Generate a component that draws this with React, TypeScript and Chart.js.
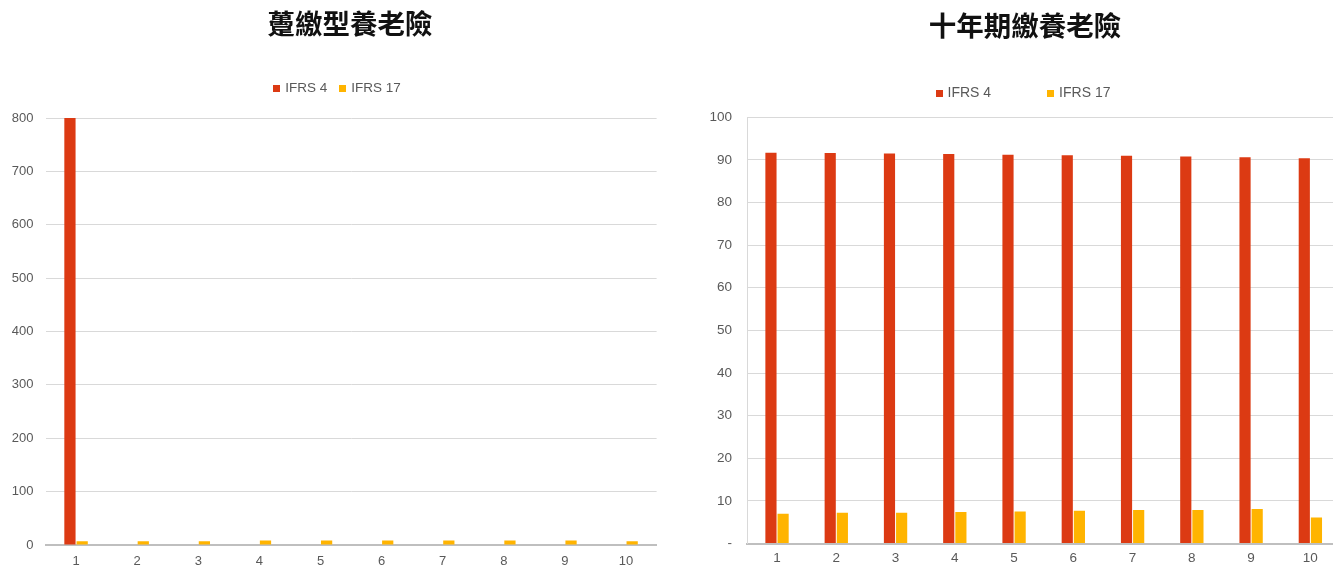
import React, { useEffect, useRef } from "react";
import { Chart, registerables } from "chart.js";

Chart.register(...registerables);
Chart.defaults.font.family = "'Liberation Sans', Arial, sans-serif";

// ---------- data ----------
const categories = ["1", "2", "3", "4", "5", "6", "7", "8", "9", "10"];
const seriesNames = ["IFRS 4", "IFRS 17"];

const leftTitle = "躉繳型養老險";
const leftIfrs4 = [800, 0, 0, 0, 0, 0, 0, 0, 0, 0];
const leftIfrs17 = [7, 7, 7, 8.5, 8.5, 8.5, 8.5, 8.5, 8.5, 7];
const leftYMax = 800;
const leftYStep = 100;

const rightTitle = "十年期繳養老險";
const rightIfrs4 = [91.7, 91.6, 91.5, 91.4, 91.2, 91.1, 91.0, 90.8, 90.6, 90.4];
const rightIfrs17 = [7.0, 7.2, 7.2, 7.4, 7.5, 7.7, 7.85, 7.85, 8.1, 6.1];
const rightYMax = 100;
const rightYStep = 10;
const zeroLabel = "-";

// ---------- styles ----------
const RED = "#DC3A13";
const YELLOW = "#FFB400";
const GRID = "#D9D9D9";
const BASE = "#BFBFBF";
const TICK = "#595959";

// Draws the chart title and legend (title and legend are centred differently in the reference)
const header = {
  id: "header",
  afterDraw(chart: any, _args: any, opts: any) {
    const { ctx } = chart;
    const ds = chart.data.datasets;
    ctx.save();
    // title
    ctx.font = opts.titleFont;
    ctx.fillStyle = opts.titleColor;
    ctx.textAlign = "center";
    ctx.textBaseline = "middle";
    ctx.fillText(opts.title, opts.titleX, opts.titleY);
    // legend
    ctx.font = opts.font;
    const widths = ds.map((d: any) => ctx.measureText(d.label).width);
    const total =
      widths.reduce((a: number, w: number) => a + opts.box + opts.gap + w, 0) +
      opts.itemGap * (ds.length - 1);
    let x = opts.centerX - total / 2;
    ctx.textAlign = "left";
    ds.forEach((d: any, i: number) => {
      ctx.fillStyle = d.backgroundColor;
      ctx.fillRect(Math.round(x), Math.round(opts.y - opts.box / 2), opts.box, opts.box);
      x += opts.box + opts.gap;
      ctx.fillStyle = opts.color;
      ctx.fillText(d.label, x, opts.y);
      x += widths[i] + opts.itemGap;
    });
    ctx.restore();
  },
};

function makeConfig(p: any): any {
  return {
    type: "bar",
    data: {
      labels: categories,
      datasets: [
        {
          label: seriesNames[0],
          data: p.s1,
          backgroundColor: RED,
          categoryPercentage: p.catPct,
          barPercentage: 0.92,
        },
        {
          label: seriesNames[1],
          data: p.s2,
          backgroundColor: YELLOW,
          categoryPercentage: p.catPct,
          barPercentage: 0.92,
        },
      ],
    },
    options: {
      responsive: false,
      animation: false,
      layout: { padding: p.layoutPad },
      plugins: {
        legend: { display: false },
        tooltip: { enabled: false },
        title: { display: false },
        header: p.header,
      },
      scales: {
        x: {
          grid: { display: false, drawTicks: false },
          border: { display: true, color: BASE, width: 2 },
          ticks: {
            color: TICK,
            font: { size: p.tickSize },
            padding: p.xPad,
            maxRotation: 0,
            autoSkip: false,
          },
          afterFit: (s: any) => {
            s.height = p.xHeight;
          },
        },
        y: {
          min: 0,
          max: p.yMax,
          grid: {
            drawTicks: false,
            color: (c: any) => (c.tick && c.tick.value === 0 ? "rgba(0,0,0,0)" : GRID),
            lineWidth: 1,
          },
          border: { display: p.yBorder, color: GRID, width: 1 },
          ticks: {
            stepSize: p.yStep,
            color: TICK,
            font: { size: p.tickSize },
            padding: p.yPad,
            callback: (v: any) => (v === 0 ? p.zero : String(v)),
          },
          afterFit: (s: any) => {
            s.width = p.yWidth;
          },
        },
      },
    },
    plugins: [header],
  };
}

function ChartCanvas({ cfg, left, width }: { cfg: any; left: number; width: number }) {
  const ref = useRef<HTMLCanvasElement>(null);
  useEffect(() => {
    const chart = new Chart(ref.current as HTMLCanvasElement, cfg);
    return () => chart.destroy();
  }, []);
  return (
    <canvas
      ref={ref}
      width={width}
      height={567}
      style={{ position: "absolute", left, top: 0, display: "block" }}
    />
  );
}

const TITLE_FONT = "bold 27.5px 'Noto Sans CJK TC', sans-serif";

export default function App() {
  const leftCfg = makeConfig({
    s1: leftIfrs4,
    s2: leftIfrs17,
    yMax: leftYMax,
    yStep: leftYStep,
    zero: "0",
    catPct: 0.4,
    layoutPad: { left: 0, right: 23.4, top: 118, bottom: 0 },
    tickSize: 13,
    xPad: 9,
    xHeight: 22,
    yPad: 12,
    yWidth: 45.5,
    yBorder: false,
    header: {
      title: leftTitle,
      titleFont: TITLE_FONT,
      titleColor: "#111111",
      titleX: 350,
      titleY: 24,
      centerX: 337,
      y: 88,
      box: 7,
      gap: 5,
      itemGap: 12,
      font: "13.5px 'Liberation Sans', Arial, sans-serif",
      color: TICK,
    },
  });
  const rightCfg = makeConfig({
    s1: rightIfrs4,
    s2: rightIfrs17,
    yMax: rightYMax,
    yStep: rightYStep,
    zero: zeroLabel,
    catPct: 0.41,
    layoutPad: { left: 15, right: 10, top: 117.3, bottom: 0 },
    tickSize: 13.5,
    xPad: 6.6,
    xHeight: 19.7,
    yPad: 15.4,
    yWidth: 42.4,
    yBorder: true,
    header: {
      title: rightTitle,
      titleFont: TITLE_FONT,
      titleColor: "#111111",
      titleX: 335,
      titleY: 25.5,
      centerX: 333,
      y: 93,
      box: 7,
      gap: 5,
      itemGap: 56,
      font: "14px 'Liberation Sans', Arial, sans-serif",
      color: TICK,
    },
  });
  return (
    <div
      style={{
        position: "fixed",
        left: 0,
        top: 0,
        width: 1333,
        height: 567,
        overflow: "hidden",
        background: "#ffffff",
      }}
    >
      <ChartCanvas cfg={leftCfg} left={0} width={680} />
      <ChartCanvas cfg={rightCfg} left={690} width={660} />
    </div>
  );
}
